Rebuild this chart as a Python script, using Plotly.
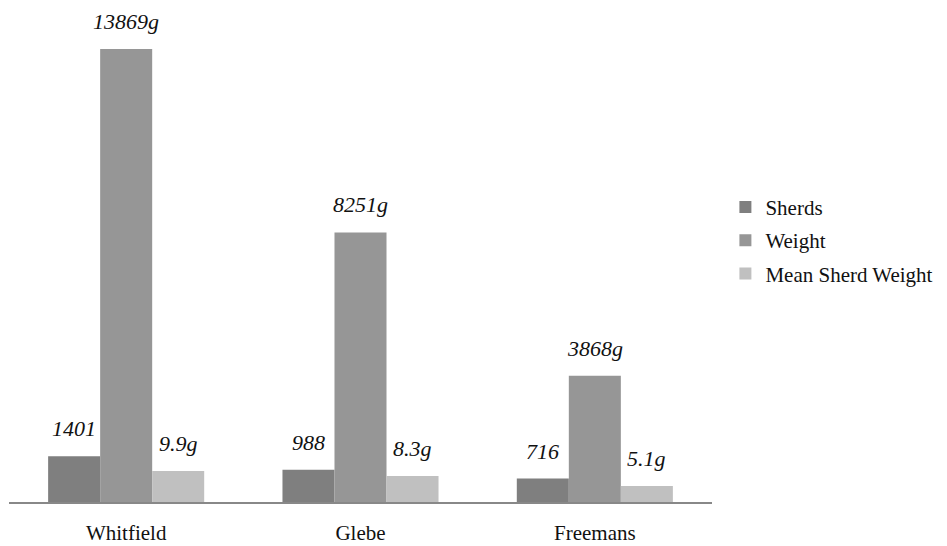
import plotly.graph_objects as go

# Pottery assemblage summary by site
sites = ["Whitfield", "Glebe", "Freemans"]
sherds = [1401, 988, 716]
weight_g = [13869, 8251, 3868]
mean_weight_g = [9.9, 8.3, 5.1]

series_names = ["Sherds", "Weight", "Mean Sherd Weight"]
colors = ["#7f7f7f", "#969696", "#c0c0c0"]

FONT = "'Times New Roman', Tinos, 'Liberation Serif', 'DejaVu Serif', serif"
BARGAP = 0.334
Y_MAX = 15000
MEAN_SCALE = 96  # secondary axis is stretched so the mean bars stay legible

fig = go.Figure()
series = [
    (sherds, "y", [f"{v}" for v in sherds]),
    (weight_g, "y", [f"{v}g" for v in weight_g]),
    (mean_weight_g, "y2", [f"{v}g" for v in mean_weight_g]),
]
for i, (vals, axis, _) in enumerate(series):
    fig.add_trace(go.Bar(
        x=sites, y=vals, name=series_names[i], yaxis=axis,
        marker=dict(color=colors[i], line=dict(width=0)),
        offsetgroup=str(i), alignmentgroup="all", legendgroup=str(i),
    ))

# Italic value labels above each bar
bar_w = (1 - BARGAP) / 3
for i, (vals, axis, labels) in enumerate(series):
    for j, (v, lab) in enumerate(zip(vals, labels)):
        fig.add_annotation(
            x=j + (i - 1) * bar_w, y=v, xref="x", yref=axis,
            text=lab, showarrow=False, yanchor="bottom", yshift=13,
            font=dict(family=FONT, size=22, color="#111111", style="italic"),
        )

fig.update_layout(
    width=947, height=546,
    margin=dict(l=9, r=235, t=12, b=44, autoexpand=False),
    paper_bgcolor="white", plot_bgcolor="white",
    barmode="group", bargap=BARGAP, bargroupgap=0,
    font=dict(family=FONT, size=21, color="#111111"),
    xaxis=dict(showline=True, linecolor="#888888", linewidth=1.5,
               showgrid=False, ticks="", ticklabelstandoff=11,
               automargin=False, tickfont=dict(family=FONT, size=21)),
    yaxis=dict(range=[0, Y_MAX], visible=False, showgrid=False),
    yaxis2=dict(range=[0, Y_MAX / MEAN_SCALE], overlaying="y",
                visible=False, showgrid=False),
    legend=dict(xref="container", yref="container", x=0.766, y=0.56,
                xanchor="left", yanchor="middle", traceorder="grouped",
                tracegroupgap=3, font=dict(family=FONT, size=21), itemwidth=30),
    showlegend=True,
)

fig.write_html("out.html")
